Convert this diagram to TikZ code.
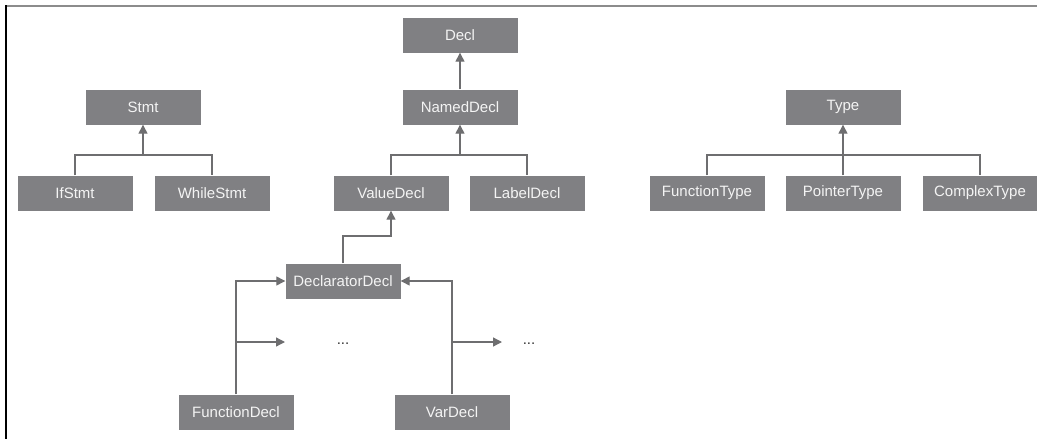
\documentclass[tikz,border=0pt]{standalone}
\usepackage{fontspec}
\setmainfont{Liberation Sans}
\usetikzlibrary{arrows.meta}
\definecolor{boxgray}{HTML}{808083}
\definecolor{linegray}{HTML}{6E6E70}
\definecolor{txtwhite}{HTML}{F4F4F4}
\begin{document}
\begin{tikzpicture}[x=1pt,y=-1pt,
  cls/.style={fill=boxgray,draw=none,minimum width=115pt,minimum height=35pt,inner sep=0pt,text=txtwhite,font=\fontsize{15}{17}\selectfont},
  dots/.style={inner sep=0pt,text=black!80,font=\fontsize{15}{17}\selectfont},
  conn/.style={draw=linegray,line width=1.3pt},
  inh/.style={conn,-{Triangle[length=9pt,width=9pt]}}]
\useasboundingbox (0,0) rectangle (1037,439);
\draw[draw=gray!90,line width=2pt] (6,6) -- (1037,6);
\draw[draw=black,line width=2pt] (6,5) -- (6,439);
% nodes
\node[cls] (decl) at (460,35) {Decl};
\node[cls] (named) at (460,107) {NamedDecl};
\node[cls] (stmt) at (143,107) {Stmt};
\node[cls] (ifs) at (75,193) {IfStmt};
\node[cls] (whiles) at (212,193) {WhileStmt};
\node[cls] (value) at (391,193) {ValueDecl};
\node[cls] (label) at (527,193) {LabelDecl};
\node[cls] (type) at (843,107) {Type};
\node[cls] (ftype) at (707,193) {FunctionType};
\node[cls] (ptype) at (843,193) {PointerType};
\node[cls] (ctype) at (980,193) {ComplexType};
\node[cls] (decltor) at (343,281) {DeclaratorDecl};
\node[cls] (fdecl) at (236,412) {FunctionDecl};
\node[cls] (vdecl) at (452,412) {VarDecl};
\node[dots] (dotsA) at (343,344) {...};
\node[dots] (dotsB) at (529,344) {...};
\coordinate (stmtbar) at (143,155);
\coordinate (namedbar) at (460,155);
\coordinate (typebar) at (843,155);
\coordinate (valbar) at (391,236);
\coordinate (fbranch) at (236,342);
\coordinate (fend) at (285,342);
\coordinate (vbranch) at (452,342);
\coordinate (vend) at (502,342);
% connectors
\draw[conn] (ifs.north) |- (stmtbar) -| (whiles.north);
\draw[inh] (stmtbar) -- (stmt.south);
\draw[conn] (value.north) |- (namedbar) -| (label.north);
\draw[inh] (namedbar) -- (named.south);
\draw[inh] (named.north) -- (decl.south);
\draw[conn] (ftype.north) |- (typebar) -| (ctype.north);
\draw[inh] (ptype.north) -- (type.south);
\draw[inh] (decltor.north) |- (valbar) -| (value.south);
\draw[inh] (fdecl.north) |- (decltor.west);
\draw[inh] (fbranch) -- (fend);
\draw[inh] (vdecl.north) |- (decltor.east);
\draw[inh] (vbranch) -- (vend);
\end{tikzpicture}
\end{document}
